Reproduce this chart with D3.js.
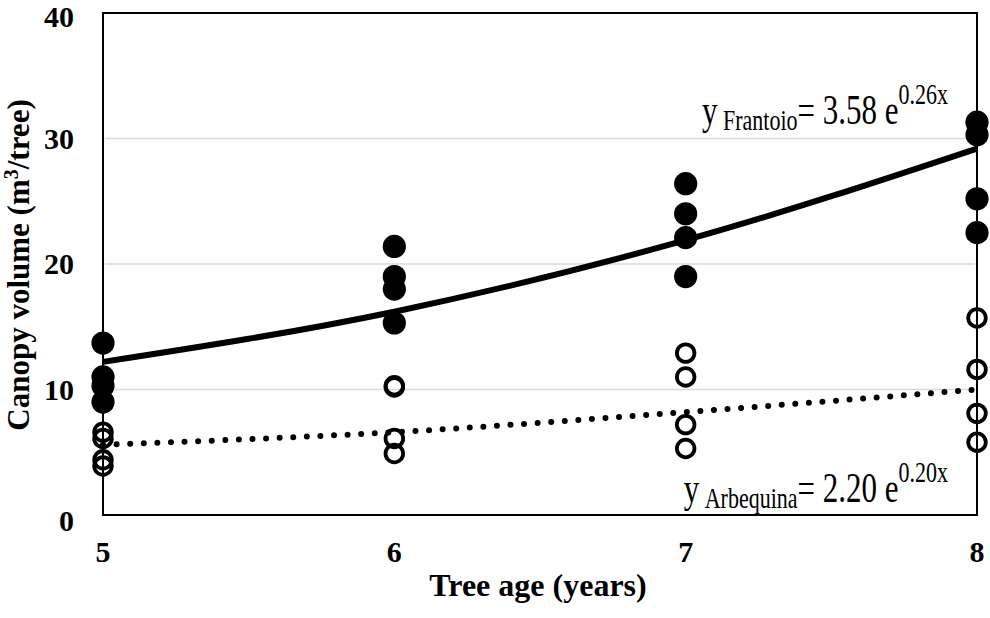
<!DOCTYPE html>
<html>
<head>
<meta charset="utf-8">
<script src="https://cdn.jsdelivr.net/npm/d3@7"></script>
<style>
  body { margin: 0; background: #fff; }
  svg { display: block; font-family: "Liberation Serif", "Times New Roman", serif; }
</style>
</head>
<body>
<div id="chart"></div>
<script>
// tree ages on the x axis
const ages = [5, 6, 7, 8];
// canopy volume per tree (m3), four trees per age
const frantoio = [
    [13.7, 11.0, 10.3, 9.0],
    [21.4, 19.0, 18.0, 15.3],
    [26.4, 24.0, 22.1, 19.0],
    [31.3, 30.3, 25.2, 22.5]
];
const arbequina = [
    [6.6, 6.1, 4.4, 3.9],
    [10.3, 10.2, 6.1, 4.9],
    [12.9, 11.0, 7.2, 5.3],
    [15.7, 11.6, 8.1, 5.8]
];
// trend lines at each age
const frantoioTrend = [12.2, 16.2, 21.9, 29.2];
const arbequinaTrend = [5.6, 6.6, 8.2, 10.0];
const yTicks = [0, 10, 20, 30, 40];

const width = 990, height = 618;
const margin = { top: 13, left: 103, right: 13, bottom: 103 };

const svg = d3.select("#chart").append("svg")
    .attr("width", width)
    .attr("height", height);

const x = d3.scaleLinear().domain([5, 8]).range([margin.left, width - margin.right]);
const y = d3.scaleLinear().domain([0, 40]).range([height - margin.bottom, margin.top]);

// gridlines
svg.append("g")
    .selectAll("line")
    .data(yTicks.filter(d => d > 0 && d < 40))
    .join("line")
    .attr("x1", x(5) + 2)
    .attr("x2", x(8) - 2)
    .attr("y1", d => y(d))
    .attr("y2", d => y(d))
    .attr("stroke", "#d9d9d9")
    .attr("stroke-width", 1.5);

// frame
svg.append("rect")
    .attr("x", x(5))
    .attr("y", y(40))
    .attr("width", x(8) - x(5))
    .attr("height", y(0) - y(40))
    .attr("fill", "none")
    .attr("stroke", "#000")
    .attr("stroke-width", 2);

// y tick labels
svg.append("g")
    .selectAll("text")
    .data(yTicks)
    .join("text")
    .attr("x", 74)
    .attr("y", d => y(d) + (d === 0 ? 6 : d === 40 ? 4 : 0))
    .attr("dy", "0.34em")
    .attr("text-anchor", "end")
    .attr("font-size", 30)
    .attr("font-weight", "bold")
    .text(d => d);

// x tick labels
svg.append("g")
    .selectAll("text")
    .data(ages)
    .join("text")
    .attr("x", d => x(d))
    .attr("y", 552)
    .attr("dy", "0.34em")
    .attr("text-anchor", "middle")
    .attr("font-size", 30)
    .attr("font-weight", "bold")
    .text(d => d);

// axis titles
svg.append("text")
    .attr("x", 538)
    .attr("y", 596)
    .attr("text-anchor", "middle")
    .attr("font-size", 32)
    .attr("font-weight", "bold")
    .text("Tree age (years)");

const yTitle = svg.append("text")
    .attr("transform", "translate(29,265) rotate(-90)")
    .attr("text-anchor", "middle")
    .attr("font-size", 31)
    .attr("font-weight", "bold");
yTitle.append("tspan").text("Canopy volume (m");
yTitle.append("tspan").attr("font-size", 20).attr("dy", -11).text("3");
yTitle.append("tspan").attr("dy", 11).text("/tree)");

// points
const pts = (series) => series.flatMap((vals, i) => vals.map(v => ({ age: ages[i], v })));

svg.append("g")
    .selectAll("circle")
    .data(pts(arbequina))
    .join("circle")
    .attr("cx", d => x(d.age))
    .attr("cy", d => y(d.v))
    .attr("r", 8.8)
    .attr("fill", "none")
    .attr("stroke", "#000")
    .attr("stroke-width", 3.8);

svg.append("g")
    .selectAll("circle")
    .data(pts(frantoio))
    .join("circle")
    .attr("cx", d => x(d.age))
    .attr("cy", d => y(d.v))
    .attr("r", 11.6)
    .attr("fill", "#000");

// trend lines
const line = d3.line()
    .x((d, i) => x(ages[i]))
    .y(d => y(d))
    .curve(d3.curveMonotoneX);

svg.append("path")
    .attr("d", line(frantoioTrend))
    .attr("fill", "none")
    .attr("stroke", "#000")
    .attr("stroke-width", 6);

svg.append("path")
    .attr("d", line(arbequinaTrend))
    .attr("fill", "none")
    .attr("stroke", "#000")
    .attr("stroke-width", 6)
    .attr("stroke-linecap", "round")
    .attr("stroke-dasharray", "0 13.6");

// equations
function equation(baseY, name, coef, expo) {
    const t = svg.append("text")
        .attr("transform", `translate(948,${baseY}) scale(1,1.35)`)
        .attr("text-anchor", "end")
        .attr("font-size", 31);
    t.append("tspan").text("y");
    t.append("tspan").attr("font-size", 22).attr("dy", 4.5).text("\u00a0" + name);
    t.append("tspan").attr("dy", -4.5).text("= " + coef + " e");
    t.append("tspan").attr("font-size", 22).attr("dy", -15).text(expo);
}
equation(124, "Frantoio", "3.58", "0.26x");
equation(502, "Arbequina", "2.20", "0.20x");
</script>
</body>
</html>
